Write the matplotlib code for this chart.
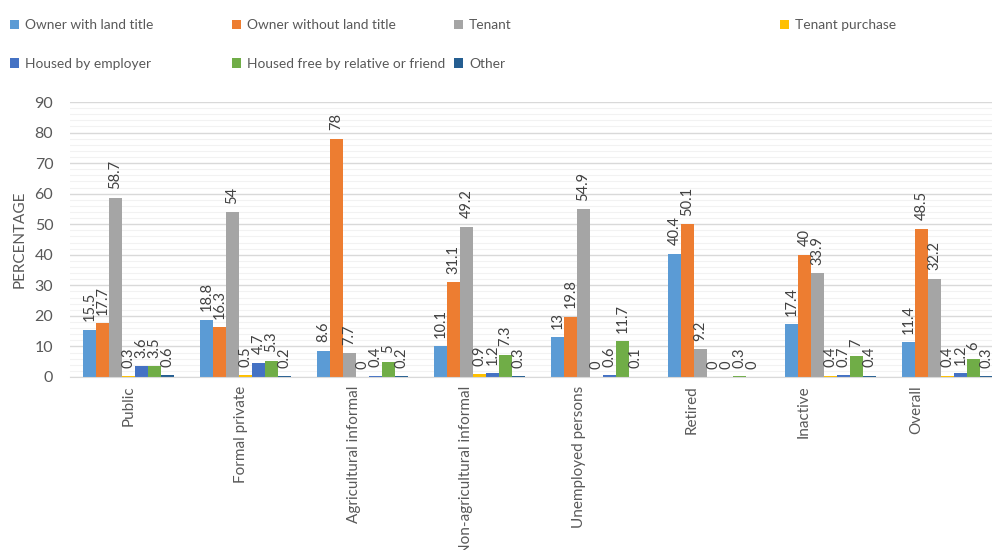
import matplotlib
matplotlib.use("Agg")
import matplotlib.pyplot as plt
from matplotlib.patches import Patch
import numpy as np

categories = ["Public", "Formal private", "Agricultural informal",
              "Non-agricultural informal", "Unemployed persons", "Retired",
              "Inactive", "Overall"]

owner_with_title = [15.5, 18.8, 8.6, 10.1, 13, 40.4, 17.4, 11.4]
owner_without_title = [17.7, 16.3, 78, 31.1, 19.8, 50.1, 40, 48.5]
tenant = [58.7, 54, 7.7, 49.2, 54.9, 9.2, 33.9, 32.2]
tenant_purchase = [0.3, 0.5, 0, 0.9, 0, 0, 0.4, 0.4]
housed_by_employer = [3.6, 4.7, 0.4, 1.2, 0.6, 0, 0.7, 1.2]
housed_free = [3.5, 5.3, 5, 7.3, 11.7, 0.3, 7, 6]
other = [0.6, 0.2, 0.2, 0.3, 0.1, 0, 0.4, 0.3]

series_names = ["Owner with land title", "Owner without land title", "Tenant",
                "Tenant purchase", "Housed by employer",
                "Housed free by relative or friend", "Other"]
series_values = [owner_with_title, owner_without_title, tenant, tenant_purchase,
                 housed_by_employer, housed_free, other]
colors = ["#5B9BD5", "#ED7D31", "#A5A5A5", "#FFC000", "#4472C4", "#70AD47", "#255E91"]

FONT = ["Lato", "DejaVu Sans"]
TEXT_COLOR = "#595959"

W, H = 992, 550
fig = plt.figure(figsize=(W / 100, H / 100), dpi=100)
# plot area runs a little past the right edge of the canvas
left_px, right_px, top_px, bottom_px = 70, 1006, 102, 377
ax = fig.add_axes([left_px / W, 1 - bottom_px / H,
                   (right_px - left_px) / W, (bottom_px - top_px) / H])

x = np.arange(len(categories))
bw = 1 / 9
n = len(series_values)
for k, (vals, c) in enumerate(zip(series_values, colors)):
    xs = x + (k - (n - 1) / 2) * bw
    ax.bar(xs, vals, width=bw, color=c, zorder=3)
    for xi, v in zip(xs, vals):
        ax.annotate(f"{v:g}", xy=(xi, v), xytext=(0, 6), textcoords="offset points",
                    rotation=90, ha="center", va="bottom", fontsize=10.5,
                    family=FONT, color="#404040", zorder=4)

ax.set_xlim(-0.5, len(categories) - 0.5)
ax.set_ylim(0, 90)
ax.set_yticks(np.arange(0, 91, 10))
ax.set_yticks(np.arange(0, 91, 2), minor=True)
ax.grid(axis="y", which="major", color="#D9D9D9", linewidth=1, zorder=0)
ax.grid(axis="y", which="minor", color="#F2F2F2", linewidth=0.8, zorder=0)
ax.tick_params(axis="y", which="both", length=0, labelsize=11.5, labelcolor=TEXT_COLOR, pad=12)
for lab in ax.get_yticklabels():
    lab.set_family(FONT)

label_pos = x * 0.9624
ax.set_xticks(label_pos)
ax.set_xticklabels(categories, rotation=90, fontsize=11, color=TEXT_COLOR, family=FONT)
ax.tick_params(axis="x", length=0, pad=6)

for side in ["top", "right", "left"]:
    ax.spines[side].set_visible(False)
ax.spines["bottom"].set_color("#D9D9D9")
ax.spines["bottom"].set_zorder(5)

ax.set_ylabel("PERCENTAGE", fontsize=11, color=TEXT_COLOR, family=FONT, labelpad=6)

# legend laid out in four columns
columns = [[0, 4], [1, 5], [2, 6], [3]]
col_x = [10, 232, 454, 780]
for cols, cx in zip(columns, col_x):
    handles = [Patch(facecolor=colors[i], edgecolor="none") for i in cols]
    labels = [series_names[i] for i in cols]
    fig.legend(handles, labels, loc="upper left",
               bbox_to_anchor=(cx / W, 1 - 19 / H), frameon=False,
               prop={"family": FONT, "size": 9.9}, labelcolor=TEXT_COLOR,
               handlelength=0.65, handleheight=0.65, handletextpad=0.45,
               labelspacing=1.95, borderpad=0, borderaxespad=0)

fig.savefig("out.png", dpi=100)
